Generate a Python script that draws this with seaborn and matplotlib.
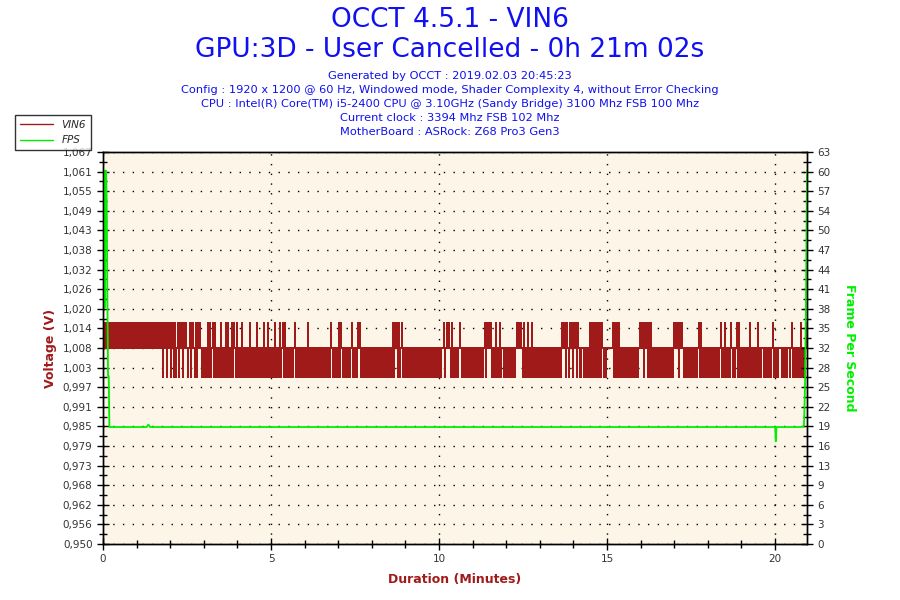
import numpy as np
import pandas as pd
import matplotlib
matplotlib.use("Agg")
import matplotlib.pyplot as plt
from matplotlib.lines import Line2D
from matplotlib.ticker import FixedLocator, MultipleLocator
import seaborn as sns

# Voltage trace: 0 = low, 1 = mid, 2 = high level.
# Each character is one short excursion slot; the sensor returns to mid between.
vin6_levels = [0.9998, 1.0085, 1.0161]
vin6_pattern = (
    # 0 - 7 min
    "2221222222" "2222212222" "2122222212" "2222122222" "2212222221"
    "2222222122" "0212021202" "2020120212" "0212101202" "2102021210"
    "0101020201" "2020101020" "1002020102" "0210200102" "0010100201"
    "0100200101" "0201020010" "1020100201" "2020100101" "0120101001"
    "0101020100" "1010010100" "0100101021" "0101002021"
    # 7 - 14 min
    "0100101012" "0101021201" "0101001010" "1000101001" "0101010100"
    "2021202012" "0101001001" "0100101010" "1010010010" "1010010101"
    "1201212102" "0101001210" "1001010100" "1010100101" "0120212120"
    "0102010201" "1010010100" "0101212121" "0201020102" "0101010100"
    "0101001010" "1010010102" "2120210212"
    # 14 - 21 min
    "0212021001" "1010100202" "0202020202" "1010111111" "2020202010"
    "1010010101" "0100101212" "2021202020" "0000100100" "1001010010"
    "0212120212" "1010101010" "0101012020" "0100101010" "1001010120"
    "1020101021" "0101202010" "0101010201" "0101020101" "1010101001"
    "2010101110" "0101011012" "0101001020" "1012"
)
duration_min = 20.95

# FPS trace
fps_min = [0.00, 0.03, 0.05, 0.07, 0.09, 0.11, 0.13, 0.15, 0.17, 0.19, 0.22,
           1.30, 1.35, 1.40, 3.0, 5.0, 7.5, 9.0, 12.0, 15.0, 18.0, 20.00,
           20.02, 20.04, 20.12, 20.80, 20.86, 20.89, 20.92, 20.95]
fps_val = [58, 60, 38, 60, 60, 55, 40, 27, 27, 18.8, 18.8,
           18.8, 19.2, 18.8, 18.8, 18.8, 18.8, 18.8, 18.8, 18.8, 18.8, 18.8,
           16.5, 18.8, 18.8, 18.8, 19.0, 25, 39, 60]

left_ticks = ["0,950", "0,956", "0,962", "0,968", "0,973", "0,979", "0,985",
              "0,991", "0,997", "1,003", "1,008", "1,014", "1,020", "1,026",
              "1,032", "1,038", "1,043", "1,049", "1,055", "1,061", "1,067"]
right_ticks = ["0", "3", "6", "9", "13", "16", "19", "22", "25", "28", "32",
               "35", "38", "41", "44", "47", "50", "54", "57", "60", "63"]
x_ticks = [0, 5, 10, 15, 20]

info_lines = [
    "Generated by OCCT : 2019.02.03 20:45:23",
    "Config : 1920 x 1200 @ 60 Hz, Windowed mode, Shader Complexity 4, without Error Checking",
    "CPU : Intel(R) Core(TM) i5-2400 CPU @ 3.10GHz (Sandy Bridge) 3100 Mhz FSB 100 Mhz",
    "Current clock : 3394 Mhz FSB 102 Mhz",
    "MotherBoard : ASRock: Z68 Pro3 Gen3",
]

red = "#A11A1A"
green = "#00F000"
blue = "#1010F0"

mid = vin6_levels[1]
vin = []
for c in vin6_pattern:
    vin += [vin6_levels[int(c)], mid]
t = np.arange(len(vin)) * duration_min / len(vin)
volt = pd.DataFrame({"Duration": t, "VIN6": vin})
fps = pd.DataFrame({"Duration": fps_min, "FPS": fps_val})

sns.set_style("white")
plt.rcParams["font.family"] = ["DejaVu Sans"]

fig = plt.figure(figsize=(9, 6), dpi=100)
ax = fig.add_axes([103 / 900, 1 - 544 / 600, 704 / 900, 392 / 600])
ax.set_facecolor("#FDF6E8")
ax2 = ax.twinx()

sns.lineplot(data=volt, x="Duration", y="VIN6", ax=ax, color=red, lw=0.6,
             estimator=None, antialiased=False, drawstyle="steps-post")
sns.lineplot(data=fps, x="Duration", y="FPS", ax=ax2, color=green, lw=1.3,
             estimator=None)

ymin, ymax = 0.950, 1.067
ax.set_xlim(0, duration_min)
ax.set_ylim(ymin, ymax)
ax2.set_ylim(0, 63)

lpos = np.linspace(ymin, ymax, len(left_ticks))
rpos = np.linspace(0, 63, len(right_ticks))
ax.set_yticks(lpos)
ax.set_yticklabels(left_ticks)
ax2.set_yticks(rpos)
ax2.set_yticklabels(right_ticks)
ax.set_xticks(x_ticks)
ax.set_xticklabels([str(v) for v in x_ticks])
ax.yaxis.set_minor_locator(FixedLocator((lpos[:-1] + lpos[1:]) / 2))
ax2.yaxis.set_minor_locator(FixedLocator((rpos[:-1] + rpos[1:]) / 2))
ax.xaxis.set_minor_locator(MultipleLocator(1))

for a in (ax, ax2):
    a.tick_params(which="major", direction="inout", length=8, width=1,
                  labelsize=7.5, labelcolor="#333333", color="black")
    a.tick_params(which="minor", direction="inout", length=6, width=1,
                  color="black")
    for s in a.spines.values():
        s.set_color("black")
        s.set_linewidth(1)
ax.tick_params(axis="both", which="both", left=True, bottom=True)
ax2.tick_params(axis="y", which="both", right=True)

ax.grid(True, which="major", color="black", lw=1.0, ls=(0, (1, 6)))

ax.set_xlabel("Duration (Minutes)", color=red, fontsize=9, fontweight="bold",
              labelpad=6)
ax.set_ylabel("Voltage (V)", color=red, fontsize=9, fontweight="bold",
              labelpad=4)
ax2.set_ylabel("Frame Per Second", color=green, fontsize=9, fontweight="bold",
               rotation=270, labelpad=18)

fig.text(0.5, 1 - 20 / 600, "OCCT 4.5.1 - VIN6", ha="center", va="center",
         color=blue, fontsize=19)
fig.text(0.5, 1 - 50 / 600, "GPU:3D - User Cancelled - 0h 21m 02s",
         ha="center", va="center", color=blue, fontsize=19)
for i, line in enumerate(info_lines):
    fig.text(0.5, 1 - (76 + 14 * i) / 600, line, ha="center", va="center",
             color=blue, fontsize=8.2)

handles = [Line2D([], [], color=red, lw=1), Line2D([], [], color=green, lw=1)]
leg = fig.legend(handles, ["VIN6", "FPS"], loc="upper left",
                 bbox_to_anchor=(15 / 900, 1 - 115 / 600), frameon=True,
                 fancybox=False, handlelength=3.2,
                 borderpad=0.45, labelspacing=0.55, borderaxespad=0,
                 prop={"style": "italic", "size": 7.5})
leg.get_frame().set_edgecolor("black")
leg.get_frame().set_linewidth(1)

fig.savefig("out.png", dpi=100)
